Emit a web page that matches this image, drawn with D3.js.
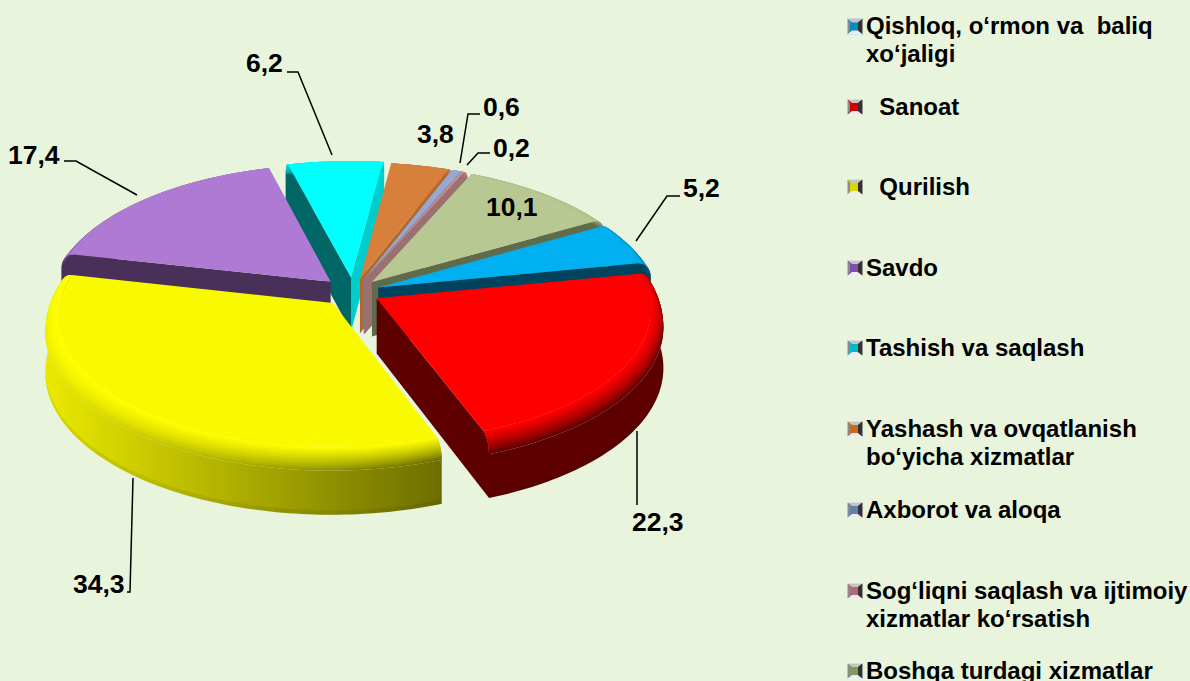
<!DOCTYPE html>
<html lang="uz">

<head>
  <meta charset="UTF-8">
  <title>Chart</title>
  <script src="https://cdn.jsdelivr.net/npm/d3@7/dist/d3.min.js"></script>
  <style>
    html,
    body {
      margin: 0;
      background: #e8f4dc;
    }

    svg {
      display: block;
    }

    text {
      font-family: 'Liberation Sans', Arial, sans-serif;
      font-weight: bold;
      fill: #000;
      white-space: pre;
    }
  </style>
</head>

<body>
  <script>
    // data, clockwise from the blue slice
    const categories = [
      ['Qishloq, o‘rmon va  baliq', 'xo‘jaligi'],
      ['  Sanoat'],
      ['  Qurilish'],
      ['Savdo'],
      ['Tashish va saqlash'],
      ['Yashash va ovqatlanish', 'bo‘yicha xizmatlar'],
      ['Axborot va aloqa'],
      ['Sog‘liqni saqlash va ijtimoiy', 'xizmatlar ko‘rsatish'],
      ['Boshqa turdagi xizmatlar']
    ]
    const values = [5.2, 22.3, 34.3, 17.4, 6.2, 3.8, 0.6, 0.2, 10.1]

    // how far each slice is pulled out
    const explodes = [0.095, 0.095, 0.107, 0.11, 0.11, 0.1, 0.1, 0.1, 0.1]

    // colours per slice
    const topColors = ['#00b0f0', '#ff0000', '#f9f900', '#ae7ad4', '#00ffff', '#d6803c', '#95a9d4', '#c88a8a', '#b8c893']
    const rimColors = ['#00b0f0', '#ff0000', '#ffff00', '#b382da', '#00ffff', '#d6803c', '#95a9d4', '#c88a8a', '#b8c893']
    const wallLeft = ['#00435f', '#5f0000', '#e8e800', '#483058', '#006666', '#a8642e', '#7486a8', '#9b7070', '#5f6b4a']
    const wallRight = ['#00435f', '#5f0000', '#6e6e00', '#483058', '#00cccc', '#a8642e', '#7486a8', '#9b7070', '#5f6b4a']
    const startFace = ['#00435f', '#5f0000', '#808000', '#483058', '#006666', '#a8642e', '#7486a8', '#9b7070', '#5f6b4a']
    const endFace = ['#00435f', '#5f0000', '#808000', '#483058', '#00cccc', '#b06a30', '#7486a8', '#9b7070', '#5f6b4a']
    const markerColors = ['#0a86c0', '#d00000', '#d8d800', '#7f4fb0', '#00b8c8', '#c86a20', '#5f80b0', '#b06a70', '#7f9a60']

    // where the value labels and their leader lines go
    const labelSpots = [
      { x: 683, y: 197, line: [[680, 196], [667, 196], [636, 241]] },
      { x: 632, y: 531, line: [[637, 431], [637, 505]] },
      { x: 73, y: 593, line: [[127, 592], [130, 592], [133, 478]] },
      { x: 8, y: 164, line: [[64, 161], [76, 161], [137, 195]] },
      { x: 246, y: 72, line: [[287, 72], [298, 72], [332, 155]] },
      { x: 417, y: 143, line: null },
      { x: 483, y: 116, line: [[480, 114], [468, 114], [460, 163]] },
      { x: 493, y: 157, line: [[490, 153], [478, 153], [467, 165]] },
      { x: 486, y: 216, line: null }
    ]
    const legendLines = [26.5, 107, 187, 268, 348, 429, 510, 591, 671]

    const width = 1190
    const height = 681

    // pie projection
    const cx = 353
    const cy = 292
    const rx = 284
    const ry = 136
    const persp = 0.095
    const depth = 55
    const bevelR = 0.045
    const bevelZ = 15
    const steps = 14

    const svg = d3.select('body').append('svg')
      .attr('width', width)
      .attr('height', height)
    const defs = svg.append('defs')

    const startAngle = 60.3 * Math.PI / 180
    const arcs = d3.pie().sort(null)
      .startAngle(startAngle)
      .endAngle(startAngle + 2 * Math.PI)(values)

    function project(d, a, r, z) {
      const mid = (d.startAngle + d.endAngle) / 2
      const X = r * Math.sin(a) + explodes[d.index] * Math.sin(mid)
      const Y = -r * Math.cos(a) - explodes[d.index] * Math.cos(mid)
      const s = 1 + persp * Y
      return [cx + rx * X * s, cy + ry * Y * s + z * s]
    }

    function rim(d, r, z) {
      const n = Math.max(2, Math.ceil((d.endAngle - d.startAngle) / 0.02))
      return d3.range(n + 1).map(i => project(d, d.startAngle + (d.endAngle - d.startAngle) * i / n, r, z))
    }

    const line = d3.line()
    const ring = (d, r0, z0, r1, z1) => line(rim(d, r0, z0).concat(rim(d, r1, z1).reverse())) + 'Z'

    function wallGradient(i, mix) {
      const id = `wall-${i}-${Math.round(mix * 100)}`
      const g = defs.append('linearGradient').attr('id', id)
        .attr('gradientUnits', 'userSpaceOnUse')
        .attr('x1', 50).attr('x2', 440).attr('y1', 0).attr('y2', 0)
      const m = d3.interpolateRgb(rimColors[i], wallLeft[i])
      const n = d3.interpolateRgb(rimColors[i], wallRight[i])
      g.append('stop').attr('offset', 0).attr('stop-color', m(mix))
      g.append('stop').attr('offset', 1).attr('stop-color', n(mix))
      return `url(#${id})`
    }

    // rounded rim cross section, top edge to wall
    const profile = d3.range(steps + 1).map(k => {
      const t = k / steps * Math.PI / 2
      return { r: 1 - bevelR * (1 - Math.sin(t)), z: bevelZ * (1 - Math.cos(t)), mix: Math.pow(k / steps, 1.6) }
    })

    // far slices first so the near ones paint over them
    const order = d3.range(arcs.length).sort((a, b) => {
      const ya = -Math.cos((arcs[a].startAngle + arcs[a].endAngle) / 2)
      const yb = -Math.cos((arcs[b].startAngle + arcs[b].endAngle) / 2)
      return ya - yb
    })

    const pieG = svg.append('g')
    order.forEach(i => {
      const d = arcs[i]
      const g = pieG.append('g')

      // outer wall
      g.append('path').attr('d', ring(d, 1, bevelZ, 1, depth)).attr('fill', wallGradient(i, 1))
      g.append('path').attr('d', ring(d, 1, depth - 4, 1, depth)).attr('fill', '#000').attr('opacity', 0.07)

      // radial faces that look towards the viewer, cut back along the rim
      const face = (a, color) => g.append('path')
        .attr('d', line([project(d, a, 0, 0)]
          .concat(profile.map(p => project(d, a, p.r, p.z)))
          .concat([project(d, a, 1, depth), project(d, a, 0, depth)])) + 'Z')
        .attr('fill', color)
      if (-Math.sin(d.startAngle) > 0) face(d.startAngle, startFace[i])
      if (Math.sin(d.endAngle) > 0) face(d.endAngle, endFace[i])

      // rim strips, outside in
      for (let k = steps; k > 0; k--) {
        const outer = profile[k]
        const inner = profile[Math.max(0, k - 2)]
        g.append('path').attr('d', ring(d, outer.r, outer.z, inner.r, inner.z)).attr('fill', wallGradient(i, outer.mix))
      }

      // flat top
      g.append('path')
        .attr('d', line([project(d, d.startAngle, 0, 0)].concat(rim(d, 1 - bevelR, 0))) + 'Z')
        .attr('fill', topColors[i])
    })

    // value labels
    const fmt = v => String(v).replace('.', ',')
    labelSpots.forEach((s, i) => {
      svg.append('text').attr('x', s.x).attr('y', s.y).attr('font-size', 26.5).text(fmt(values[i]))
      if (s.line) {
        svg.append('path').attr('d', line(s.line)).attr('fill', 'none').attr('stroke', '#000').attr('stroke-width', 1.5)
      }
    })

    // legend
    const markerX = 847
    const markerSize = 16
    categories.forEach((rows, i) => {
      const y = legendLines[i]
      const g = svg.append('g').attr('transform', `translate(${markerX}, ${y - markerSize / 2})`)
      const s = markerSize
      const b = 5
      g.append('rect').attr('width', s).attr('height', s).attr('fill', markerColors[i])
      const bevel = [
        [[[0, 0], [s, 0], [s - b, 4], [b, 4]], '#c4c4c4'],
        [[[0, s], [s, s], [s - b, s - 4], [b, s - 4]], '#ececec'],
        [[[s, 0], [s, s], [s - b, s - 4], [s - b, 4]], '#333'],
        [[[0, 0], [0, s], [b - 2, s - 4], [b - 2, 4]], '#8a8a8a']
      ]
      bevel.forEach(([pts, c]) => g.append('path').attr('d', line(pts) + 'Z').attr('fill', c))
      g.append('rect').attr('x', 0.25).attr('y', 0.25).attr('width', s - 0.5).attr('height', s - 0.5)
        .attr('fill', 'none').attr('stroke', '#f4f4f4').attr('stroke-width', 0.5)
      rows.forEach((row, k) => {
        svg.append('text')
          .attr('x', 866)
          .attr('y', y + 7.5 + k * 28)
          .attr('font-size', 24)
          .text(row)
      })
    })
  </script>
</body>

</html>
